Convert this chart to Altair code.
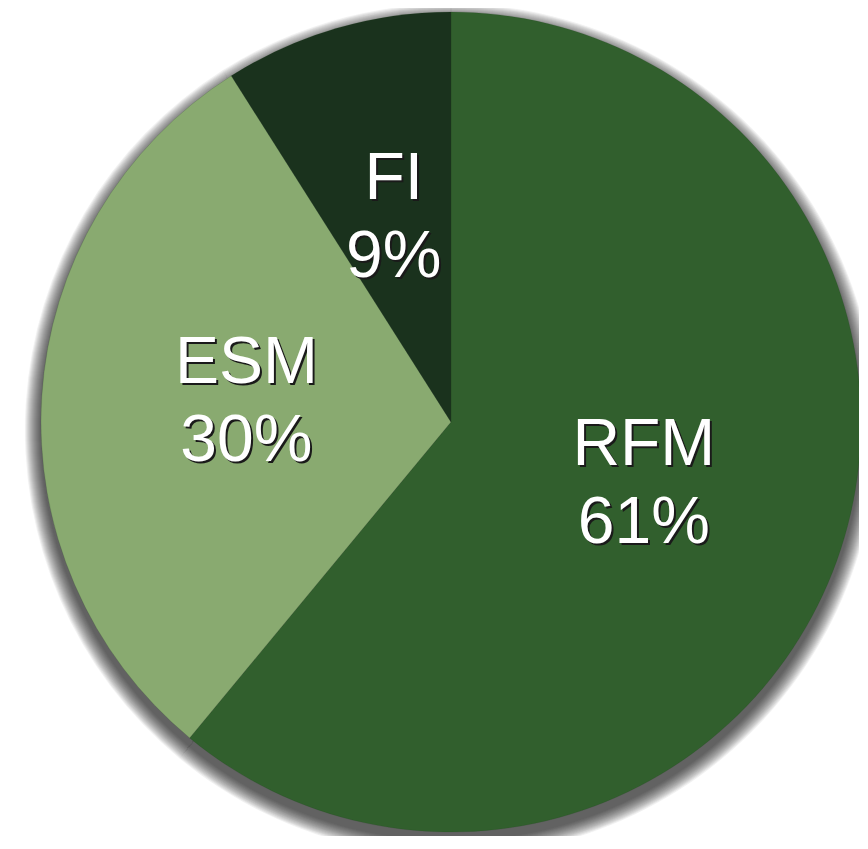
import altair as alt
import pandas as pd

categories = ["RFM", "ESM", "FI"]
shares = [61, 30, 9]
slice_colors = ["#315f2d", "#89aa70", "#1a321d"]
order_idx = [0, 1, 2]

df = pd.DataFrame({
    "cat": categories,
    "share": shares,
    "idx": order_idx,
})
df["label"] = [f"{c}\n{s}%" for c, s in zip(categories, shares)]

R = 410
theta = alt.Theta("share:Q", stack=True)
order = alt.Order("idx:Q")
base = alt.Chart(df)

# soft drop shadow built from stacked translucent rings
shadow_layers = []
for k in range(1, 17):
    shadow_layers.append(
        base.mark_arc(radius=R + k, yOffset=8, color="#000000", opacity=0.05,
                      stroke="#000000", strokeOpacity=0.05, strokeWidth=0.5)
        .encode(theta=theta, order=order)
    )

pie = base.mark_arc(radius=R, stroke="#1c3a1a", strokeWidth=0.3, strokeOpacity=0.5).encode(
    theta=theta,
    order=order,
    color=alt.Color("cat:N", scale=alt.Scale(domain=categories, range=slice_colors), legend=None),
)

text_shadow = base.mark_text(
    radius=205, fontSize=66, font="Liberation Sans", lineBreak="\n", lineHeight=78,
    color="#1a1a1a", dx=2, dy=-44, align="center", baseline="middle",
).encode(theta=theta, order=order, text="label:N")

text = base.mark_text(
    radius=205, fontSize=66, font="Liberation Sans", lineBreak="\n", lineHeight=78,
    color="#ffffff", dy=-46, align="center", baseline="middle",
).encode(theta=theta, order=order, text="label:N")

chart = alt.layer(*shadow_layers, pie, text_shadow, text).properties(
    width=816, height=828,
    autosize=alt.AutoSizeParams(type="none"),
    padding={"left": 35, "top": 0, "right": 0, "bottom": 0},
).configure_view(stroke=None)

chart.save("out.html", embed_options={"renderer": "svg", "actions": False})
